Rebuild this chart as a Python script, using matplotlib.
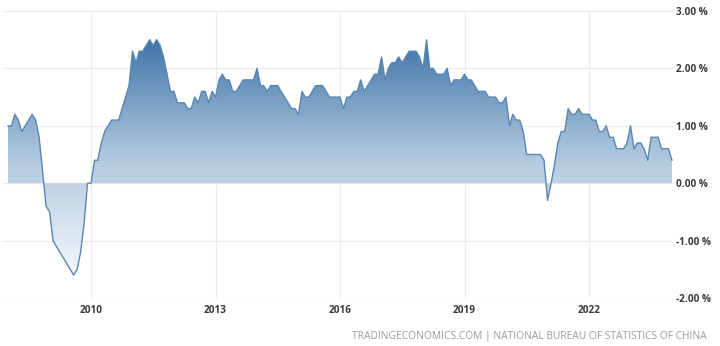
import numpy as np
import pandas as pd
import matplotlib
matplotlib.use("Agg")
import matplotlib.pyplot as plt
import matplotlib.dates as mdates
from matplotlib.colors import LinearSegmentedColormap
from matplotlib.path import Path
from matplotlib.patches import PathPatch

# ---- data: China core inflation rate, monthly, Jan 2008 - Jan 2024 (%) ----
start_month = "2008-01-01"
values_2008_2009 = [1.0, 1.0, 1.2, 1.1, 0.9, 1.0, 1.1, 1.2, 1.1, 0.8, 0.2, -0.4,
                    -0.5, -1.0, -1.1, -1.2, -1.3, -1.4, -1.5, -1.6, -1.5, -1.2, -0.7, 0.0]
values_2010_2011 = [0.0, 0.4, 0.4, 0.7, 0.9, 1.0, 1.1, 1.1, 1.1, 1.3, 1.5, 1.7,
                    2.3, 2.1, 2.3, 2.3, 2.4, 2.5, 2.4, 2.5, 2.4, 2.2, 1.9, 1.6]
values_2012_2013 = [1.6, 1.4, 1.4, 1.4, 1.3, 1.3, 1.5, 1.4, 1.6, 1.6, 1.4, 1.6,
                    1.5, 1.8, 1.9, 1.8, 1.8, 1.6, 1.6, 1.7, 1.8, 1.8, 1.8, 1.8]
values_2014_2015 = [2.0, 1.7, 1.7, 1.6, 1.7, 1.7, 1.7, 1.6, 1.5, 1.4, 1.3, 1.3,
                    1.2, 1.6, 1.5, 1.5, 1.6, 1.7, 1.7, 1.7, 1.6, 1.5, 1.5, 1.5]
values_2016_2017 = [1.5, 1.3, 1.5, 1.5, 1.6, 1.6, 1.8, 1.6, 1.7, 1.8, 1.9, 1.9,
                    2.2, 1.8, 2.0, 2.1, 2.1, 2.2, 2.1, 2.2, 2.3, 2.3, 2.3, 2.2]
values_2018_2019 = [2.0, 2.5, 2.0, 2.0, 1.9, 1.9, 1.9, 2.0, 1.7, 1.8, 1.8, 1.8,
                    1.9, 1.8, 1.8, 1.7, 1.6, 1.6, 1.6, 1.5, 1.5, 1.5, 1.4, 1.4]
values_2020_2021 = [1.5, 1.0, 1.2, 1.1, 1.1, 0.9, 0.5, 0.5, 0.5, 0.5, 0.5, 0.4,
                    -0.3, 0.0, 0.3, 0.7, 0.9, 0.9, 1.3, 1.2, 1.2, 1.3, 1.2, 1.2]
values_2022_2023 = [1.2, 1.1, 1.1, 0.9, 0.9, 1.0, 0.8, 0.8, 0.6, 0.6, 0.6, 0.7,
                    1.0, 0.6, 0.7, 0.7, 0.6, 0.4, 0.8, 0.8, 0.8, 0.6, 0.6, 0.6]
values_2024 = [0.4]

year_ticks = ["2010", "2013", "2016", "2019", "2022"]
y_ticks = [-2, -1, 0, 1, 2, 3]
y_tick_labels = ["-2.00 %", "-1.00 %", "0.00 %", "1.00 %", "2.00 %", "3.00 %"]
source_text = "TRADINGECONOMICS.COM | NATIONAL BUREAU OF STATISTICS OF CHINA"

values = np.array(values_2008_2009 + values_2010_2011 + values_2012_2013 + values_2014_2015
                  + values_2016_2017 + values_2018_2019 + values_2020_2021 + values_2022_2023
                  + values_2024)
dates = pd.date_range(start_month, periods=len(values), freq="MS")
x = mdates.date2num(dates)

plt.rcParams["font.family"] = ["Open Sans", "DejaVu Sans"]

fig = plt.figure(figsize=(7.2, 3.46), dpi=100)
ax = fig.add_axes([3 / 720, 48 / 346, 670 / 720, 287 / 346])

xmin = mdates.date2num(pd.Timestamp("2007-11-18"))
xmax = mdates.date2num(pd.Timestamp("2024-01-10"))

ax.set_yticks(y_ticks)
ax.set_yticklabels(y_tick_labels)
ax.set_xticks([mdates.date2num(pd.Timestamp(f"{t}-01-01")) for t in year_ticks])
ax.set_xticklabels(year_ticks)
ax.grid(True, color="#ebebeb", linewidth=0.9)
ax.set_axisbelow(True)
for s in ax.spines.values():
    s.set_visible(False)
ax.yaxis.tick_right()
ax.tick_params(axis="both", length=0, colors="#3a3a3a", labelsize=7.2)
ax.tick_params(axis="y", pad=2)
ax.tick_params(axis="x", pad=5)
for lab in ax.get_xticklabels() + ax.get_yticklabels():
    lab.set_fontweight("bold")

# gradient area
pos = ax.fill_between(x, values, 0, where=values >= 0, interpolate=True,
                      facecolor="none", edgecolor="none")
neg = ax.fill_between(x, values, 0, where=values <= 0, interpolate=True,
                      facecolor="none", edgecolor="none")
paths = list(pos.get_paths()) + list(neg.get_paths())
compound = Path.make_compound_path(*paths)
clip = PathPatch(compound, transform=ax.transData, facecolor="none", edgecolor="none")
ax.add_patch(clip)

cmap = LinearSegmentedColormap.from_list("te", ["#f3f7fb", "#b0c8df", "#3f74a8"])
ytop, ybot = values.max(), values.min()
grad = np.linspace(1, 0, 256).reshape(-1, 1)
im = ax.imshow(grad, cmap=cmap, aspect="auto", extent=[xmin, xmax, ybot, ytop],
               origin="upper", zorder=2, interpolation="bilinear")
im.set_clip_path(clip)
ax.set_xlim(xmin, xmax)
ax.set_ylim(-2, 3)

ax.plot(x, values, color="#5a86b2", linewidth=1.0, zorder=3)

fig.text(707 / 720, 1 - 337 / 346, source_text, ha="right", va="center",
         fontsize=7.4, color="#9a9a9a")

fig.savefig("out.png", dpi=100)
